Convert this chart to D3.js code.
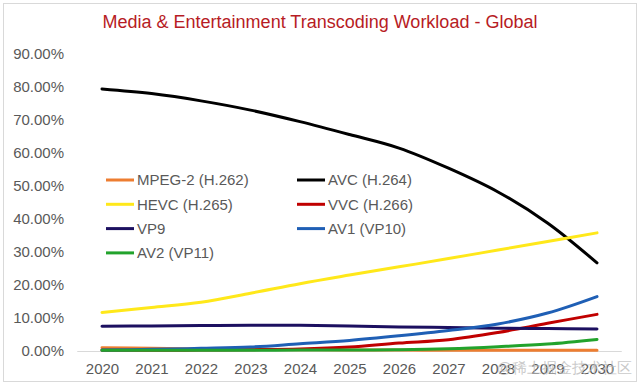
<!DOCTYPE html>
<html>
<head>
<meta charset="utf-8">
<script src="https://cdn.jsdelivr.net/npm/d3@7"></script>
<style>
  html, body { margin: 0; padding: 0; background: #fff; }
  svg { display: block; }
  text { font-family: "Liberation Sans", Arial, sans-serif; }
</style>
</head>
<body>
<svg id="chart" width="640" height="385"></svg>
<script>
const title = "Media & Entertainment Transcoding Workload - Global";
const years = ["2020","2021","2022","2023","2024","2025","2026","2027","2028","2029","2030"];
const yTicks = [0, 0.1, 0.2, 0.3, 0.4, 0.5, 0.6, 0.7, 0.8, 0.9];

const seriesNames = ["MPEG-2 (H.262)", "AVC (H.264)", "HEVC (H.265)", "VVC (H.266)", "VP9", "AV1 (VP10)", "AV2 (VP11)"];
const seriesColors = ["#ED7D31", "#000000", "#FFE81A", "#C00000", "#1C1060", "#1F5FB5", "#22A32C"];

// values in percent
const mpeg2 = [1.0, 0.8, 0.6, 0.5, 0.4, 0.3, 0.3, 0.2, 0.2, 0.2, 0.2];
const avc   = [79.4, 78.0, 75.8, 73.0, 69.5, 65.6, 61.5, 55.4, 48.2, 38.8, 26.7];
const hevc  = [11.7, 13.2, 14.8, 17.5, 20.4, 23.0, 25.5, 28.0, 30.6, 33.2, 35.8];
const vvc   = [0.2, 0.2, 0.3, 0.4, 0.6, 1.2, 2.4, 3.4, 5.6, 8.4, 11.1];
const vp9   = [7.5, 7.6, 7.7, 7.8, 7.8, 7.6, 7.3, 7.1, 6.9, 6.8, 6.7];
const av1   = [0.3, 0.5, 0.8, 1.2, 2.2, 3.2, 4.6, 6.2, 8.2, 11.5, 16.5];
const av2   = [0.2, 0.2, 0.2, 0.2, 0.3, 0.3, 0.4, 0.7, 1.3, 2.1, 3.5];

const seriesValues = [mpeg2, avc, hevc, vvc, vp9, av1, av2];

const svg = d3.select("#chart");

// outer frame
svg.append("rect")
  .attr("x", 3.5).attr("y", 3.5).attr("width", 633).attr("height", 378)
  .attr("fill", "#fff").attr("stroke", "#d9d9d9").attr("stroke-width", 1);

// title
svg.append("text")
  .attr("x", 320).attr("y", 28)
  .attr("text-anchor", "middle")
  .attr("font-size", 18)
  .attr("fill", "#B71C24")
  .text(title);

const x = d3.scalePoint().domain(years).range([77.25, 621.75]).padding(0.5);
const y = d3.scaleLinear().domain([0, 0.9]).range([351, 54]);

// y axis
const yAxis = svg.append("g")
  .attr("transform", "translate(67,0)")
  .call(d3.axisLeft(y).tickValues(yTicks).tickSize(0).tickPadding(3).tickFormat(d3.format(".2%")));
yAxis.select(".domain").remove();
yAxis.selectAll("text").attr("font-size", 15).attr("fill", "#595959")
  .attr("font-family", "Liberation Sans, Arial, sans-serif");

// x axis
const xAxis = svg.append("g")
  .attr("transform", "translate(0,351)")
  .call(d3.axisBottom(x).tickSize(0).tickPadding(12));
xAxis.select(".domain").attr("stroke", "#d9d9d9").attr("stroke-width", 1)
  .attr("d", "M77.25,0.5H621.75");
xAxis.selectAll("text").attr("font-size", 15).attr("fill", "#595959")
  .attr("font-family", "Liberation Sans, Arial, sans-serif");

// lines
const line = d3.line()
  .x((d, i) => x(years[i]))
  .y(d => y(d / 100))
  .curve(d3.curveCatmullRom.alpha(0.5));

seriesValues.forEach((vals, k) => {
  svg.append("path")
    .datum(vals)
    .attr("fill", "none")
    .attr("stroke", seriesColors[k])
    .attr("stroke-width", 3)
    .attr("stroke-linecap", "round")
    .attr("stroke-linejoin", "round")
    .attr("d", line);
});

// legend
const legendCols = [106, 297];
const legendRows = [180, 204.3, 228.6, 252.9];
seriesNames.forEach((name, k) => {
  const col = k % 2, row = Math.floor(k / 2);
  const lx = legendCols[col], ly = legendRows[row];
  const g = svg.append("g");
  g.append("line")
    .attr("x1", lx).attr("x2", lx + 28)
    .attr("y1", ly).attr("y2", ly)
    .attr("stroke", seriesColors[k]).attr("stroke-width", 3);
  g.append("text")
    .attr("x", lx + 31).attr("y", ly)
    .attr("dy", "0.35em")
    .attr("font-size", 15)
    .attr("fill", "#595959")
    .text(name);
});

// watermark (overlaps the last year labels, as in the reference)
svg.append("text")
  .attr("x", 632).attr("y", 373)
  .attr("text-anchor", "end")
  .attr("font-size", 15)
  .attr("font-family", "Noto Sans CJK SC, sans-serif")
  .attr("fill", "#bbbbbb")
  .attr("fill-opacity", 0.8)
  .text("@稀土掘金技术社区");
</script>
</body>
</html>
